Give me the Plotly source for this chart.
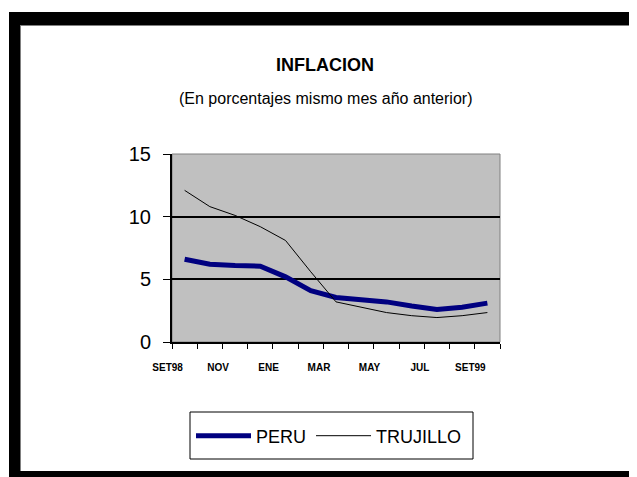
import plotly.graph_objects as go

months = ["SET98", "OCT", "NOV", "DIC", "ENE", "FEB", "MAR", "ABR", "MAY", "JUN", "JUL", "AGO", "SET99"]
tick_labels = ["SET98", "", "NOV", "", "ENE", "", "MAR", "", "MAY", "", "JUL", "", "SET99"]
peru = [6.6, 6.2, 6.1, 6.05, 5.2, 4.1, 3.55, 3.4, 3.2, 2.87, 2.6, 2.77, 3.1]
trujillo = [12.1, 10.8, 10.1, 9.2, 8.1, 5.6, 3.2, 2.8, 2.35, 2.1, 1.95, 2.1, 2.35]

# page body has an 8px margin, so the figure is drawn 8px smaller and all
# positions below are given in page (screenshot) pixels
OFF = 8
W, H = 637 - OFF, 477 - OFF
L, R, T, B = 172, 500, 154, 342  # plot area in page pixels


def xp(px):
    return (px - L) / (R - L)


def yp(py):
    return (B - py) / (B - T)


fig = go.Figure()
fig.add_trace(go.Scatter(x=months, y=peru, mode="lines", name="PERU",
                         line=dict(color="#000080", width=5)))
fig.add_trace(go.Scatter(x=months, y=trujillo, mode="lines", name="TRUJILLO",
                         line=dict(color="#000000", width=1)))

shapes = [
    # plot area border (gray)
    dict(type="rect", xref="paper", yref="paper", x0=0, x1=1, y0=0, y1=1,
         line=dict(color="#808080", width=1), layer="below"),
    # frame: top, left, bottom black bands
    dict(type="rect", xref="paper", yref="paper", x0=xp(9), x1=xp(640), y0=yp(12), y1=yp(25),
         fillcolor="black", line=dict(width=0)),
    dict(type="rect", xref="paper", yref="paper", x0=xp(9), x1=xp(20), y0=yp(12), y1=yp(480),
         fillcolor="black", line=dict(width=0)),
    dict(type="rect", xref="paper", yref="paper", x0=xp(9), x1=xp(640), y0=yp(471), y1=yp(480),
         fillcolor="black", line=dict(width=0)),
    # right thin gray line
    dict(type="line", xref="paper", yref="paper", x0=xp(635.5), x1=xp(635.5), y0=yp(25), y1=yp(471),
         line=dict(color="#808080", width=1)),
    # inner gray edges
    dict(type="line", xref="paper", yref="paper", x0=xp(20.5), x1=xp(20.5), y0=yp(25), y1=yp(471),
         line=dict(color="#808080", width=1)),
    dict(type="line", xref="paper", yref="paper", x0=xp(20), x1=xp(635), y0=yp(25.5), y1=yp(25.5),
         line=dict(color="#808080", width=1)),
    # legend box
    dict(type="rect", xref="paper", yref="paper", x0=xp(190), x1=xp(473), y0=yp(412), y1=yp(459),
         line=dict(color="black", width=1)),
]

annotations = [
    dict(text="<b>INFLACION</b>", xref="paper", yref="paper", x=xp(325), y=yp(65),
         xanchor="center", yanchor="middle", showarrow=False,
         font=dict(family="Liberation Sans, Arial", size=18, color="black")),
    dict(text="(En porcentajes mismo mes año anterior)", xref="paper", yref="paper",
         x=xp(325), y=yp(99), xanchor="center", yanchor="middle", showarrow=False,
         font=dict(family="Liberation Sans, Arial", size=16, color="black")),
]

fig.update_layout(
    width=W, height=H,
    margin=dict(l=L - OFF, r=W - (R - OFF), t=T - OFF, b=H - (B - OFF), pad=0),
    paper_bgcolor="white",
    plot_bgcolor="#C0C0C0",
    shapes=shapes,
    annotations=annotations,
    showlegend=True,
    legend=dict(orientation="h", x=xp(329), y=yp(436), xanchor="center", yanchor="middle",
                bgcolor="rgba(0,0,0,0)", borderwidth=0,
                font=dict(family="Liberation Sans, Arial", size=18, color="black"),
                itemwidth=55, tracegroupgap=0),
    xaxis=dict(type="category", categoryorder="array", categoryarray=months,
               tickmode="array", tickvals=months, ticktext=tick_labels,
               tickson="boundaries", ticks="outside", ticklen=5, tickcolor="black", tickwidth=1,
               showline=True, linecolor="black", linewidth=2, showgrid=False,
               tickangle=0, ticklabelshift=-17, ticklabelstandoff=15,
               tickfont=dict(family="Liberation Sans, Arial", size=10, color="black", weight="bold"),
               range=[-0.5, 12.5], fixedrange=True),
    yaxis=dict(range=[0, 15], tickmode="array", tickvals=[0, 5, 10, 15],
               ticks="outside", ticklen=7, tickcolor="black", tickwidth=1,
               showline=True, linecolor="black", linewidth=2,
               showgrid=True, gridcolor="black", gridwidth=2, zeroline=False,
               ticklabelstandoff=8,
               tickfont=dict(family="Liberation Sans, Arial", size=20, color="black")),
)

fig.write_html("out.html")
